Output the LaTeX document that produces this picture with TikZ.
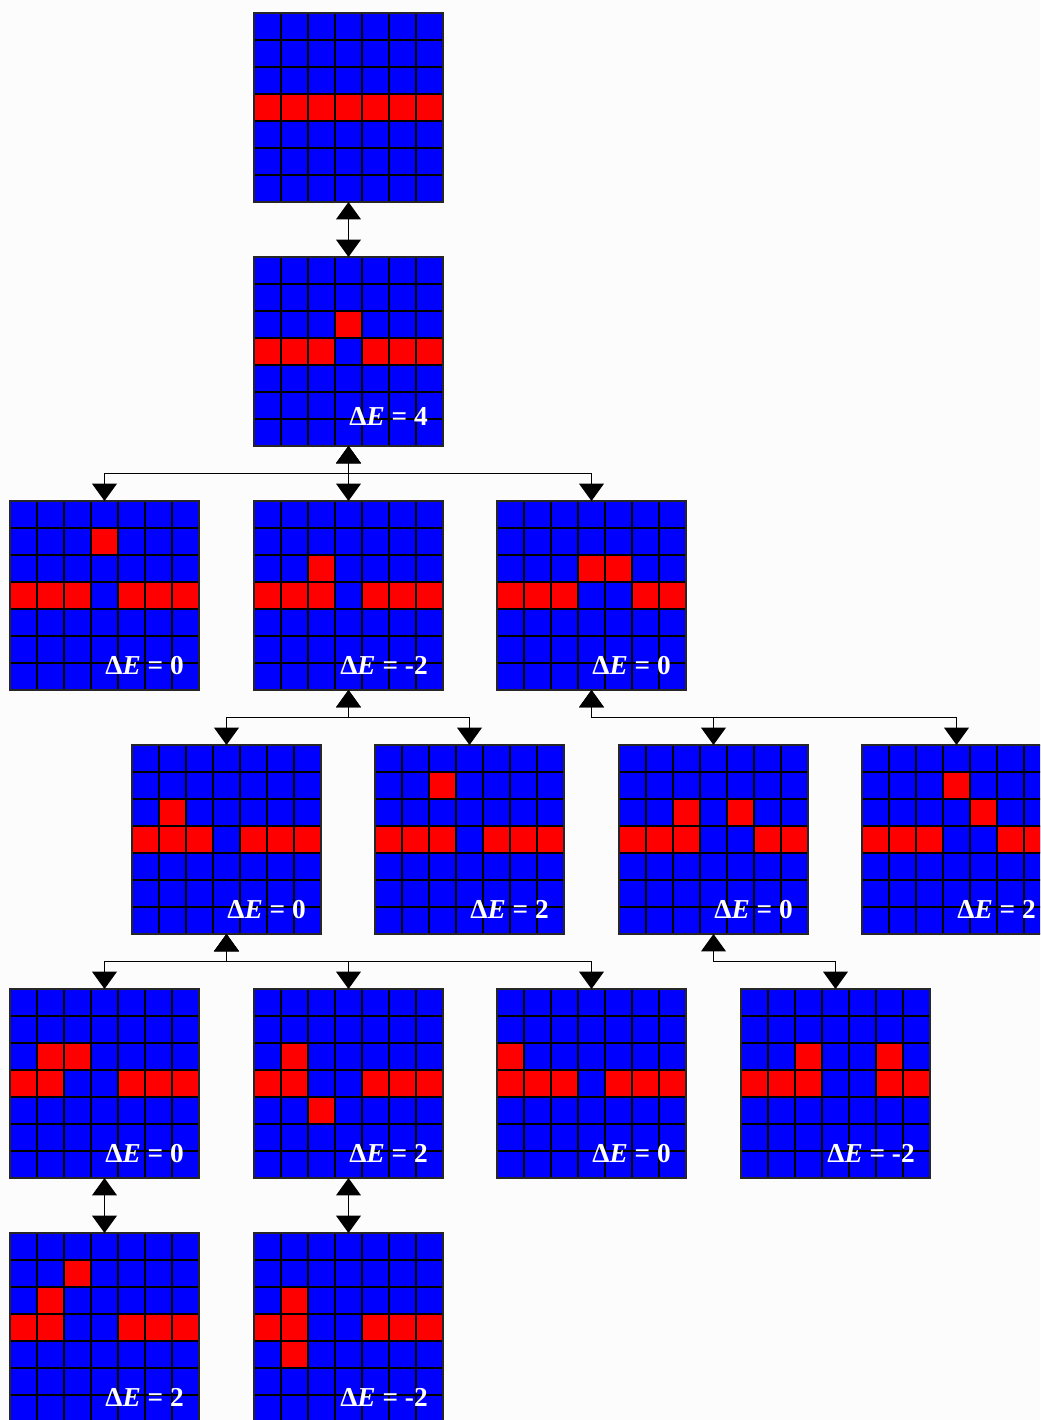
\documentclass[tikz,border=0pt]{standalone}
\usepackage{fontspec}
\setmainfont{Liberation Serif}
\usetikzlibrary{arrows.meta}
\definecolor{bgc}{RGB}{252,252,252}
\definecolor{cblue}{RGB}{0,0,255}
\definecolor{cred}{RGB}{255,0,0}
\tikzset{
 gridbox/.style={draw=none, fill=cblue, minimum width=141.75pt, minimum height=141.75pt, inner sep=0pt, outer sep=0pt},
 gl/.style={line width=1.5pt, draw=black},
 gframe/.style={line width=1.5pt, draw=black!85},
 lbl/.style={text=white, font=\fontsize{20.5}{21}\selectfont\bfseries, inner sep=0pt, anchor=base east},
 conn/.style={line width=1.1pt, arrows={Triangle[width=18.5pt,length=13pt]-Triangle[width=18.5pt,length=13pt]}},
}
% #1 name, #2 x, #3 y (pixels, top-left), #4 red cells row/col, #5 label, #6 label baseline offset
\newcommand{\isinggrid}[6]{%
 \node[gridbox] (#1) at (#2+94.5,#3+94.5) {};
 \foreach \rr/\cc in {#4} {\fill[cred] (#2+\cc*27,#3+\rr*27) rectangle ++(27,27);}
 \foreach \ii in {1,...,6} {\draw[gl] (#2+\ii*27,#3) -- ++(0,189); \draw[gl] (#2,#3+\ii*27) -- ++(189,0);}
 \draw[gframe] (#2,#3) rectangle ++(189,189);
 \node[lbl] (#1l) at (#2+174,#3+#6) {#5};
}
\begin{document}
\begin{tikzpicture}[x=0.75pt,y=-0.75pt]
\useasboundingbox (0,0) rectangle (1040,1420);
\fill[bgc] (0,0) rectangle (1040,1420);
\clip (0,0) rectangle (1040,1420);
% row 0
\node[gridbox] (g0) at (254+94.5,13+94.5) {};
\foreach \cc in {0,...,6} {\fill[cred] (254+\cc*27,13+3*27) rectangle ++(27,27);}
\foreach \ii in {1,...,6} {\draw[gl] (254+\ii*27,13) -- ++(0,189); \draw[gl] (254,13+\ii*27) -- ++(189,0);}
\draw[gframe] (254,13) rectangle ++(189,189);
% row 1
\isinggrid{g1}{254}{257}{2/3,3/0,3/1,3/2,3/4,3/5,3/6}{Δ\textit{E} = 4}{168}
% row 2
\isinggrid{g2a}{10}{501}{1/3,3/0,3/1,3/2,3/4,3/5,3/6}{Δ\textit{E} = 0}{173}
\isinggrid{g2b}{254}{501}{2/2,3/0,3/1,3/2,3/4,3/5,3/6}{Δ\textit{E} = -2}{173}
\isinggrid{g2c}{497}{501}{2/3,2/4,3/0,3/1,3/2,3/5,3/6}{Δ\textit{E} = 0}{173}
% row 3
\isinggrid{g3a}{132}{745}{2/1,3/0,3/1,3/2,3/4,3/5,3/6}{Δ\textit{E} = 0}{173}
\isinggrid{g3b}{375}{745}{1/2,3/0,3/1,3/2,3/4,3/5,3/6}{Δ\textit{E} = 2}{173}
\isinggrid{g3c}{619}{745}{2/2,2/4,3/0,3/1,3/2,3/5,3/6}{Δ\textit{E} = 0}{173}
\isinggrid{g3d}{862}{745}{1/3,2/4,3/0,3/1,3/2,3/5,3/6}{Δ\textit{E} = 2}{173}
% row 4
\isinggrid{g4a}{10}{989}{2/1,2/2,3/0,3/1,3/4,3/5,3/6}{Δ\textit{E} = 0}{173}
\isinggrid{g4b}{254}{989}{2/1,3/0,3/1,3/4,3/5,3/6,4/2}{Δ\textit{E} = 2}{173}
\isinggrid{g4c}{497}{989}{2/0,3/0,3/1,3/2,3/4,3/5,3/6}{Δ\textit{E} = 0}{173}
\isinggrid{g4d}{741}{989}{2/2,2/5,3/0,3/1,3/2,3/5,3/6}{Δ\textit{E} = -2}{173}
% row 5
\isinggrid{g5a}{10}{1233}{1/2,2/1,3/0,3/1,3/4,3/5,3/6}{Δ\textit{E} = 2}{173}
\isinggrid{g5b}{254}{1233}{2/1,3/0,3/1,3/4,3/5,3/6,4/1}{Δ\textit{E} = -2}{173}
% connectors
\draw[conn] (g0.south) -- (g1.north);
\draw[conn] (g1.south) -- ++(0,27.5) -| (g2a.north);
\draw[conn] (g1.south) -- (g2b.north);
\draw[conn] (g1.south) -- ++(0,27.5) -| (g2c.north);
\draw[conn] (g2b.south) -- ++(0,27.5) -| (g3a.north);
\draw[conn] (g2b.south) -- ++(0,27.5) -| (g3b.north);
\draw[conn] (g2c.south) -- ++(0,27.5) -| (g3c.north);
\draw[conn] (g2c.south) -- ++(0,27.5) -| (g3d.north);
\draw[conn] (g3a.south) -- ++(0,27.5) -| (g4a.north);
\draw[conn] (g3a.south) -- ++(0,27.5) -| (g4b.north);
\draw[conn] (g3a.south) -- ++(0,27.5) -| (g4c.north);
\draw[conn] (g3c.south) -- ++(0,27.5) -| (g4d.north);
\draw[conn] (g4a.south) -- (g5a.north);
\draw[conn] (g4b.south) -- (g5b.north);
\end{tikzpicture}
\end{document}
